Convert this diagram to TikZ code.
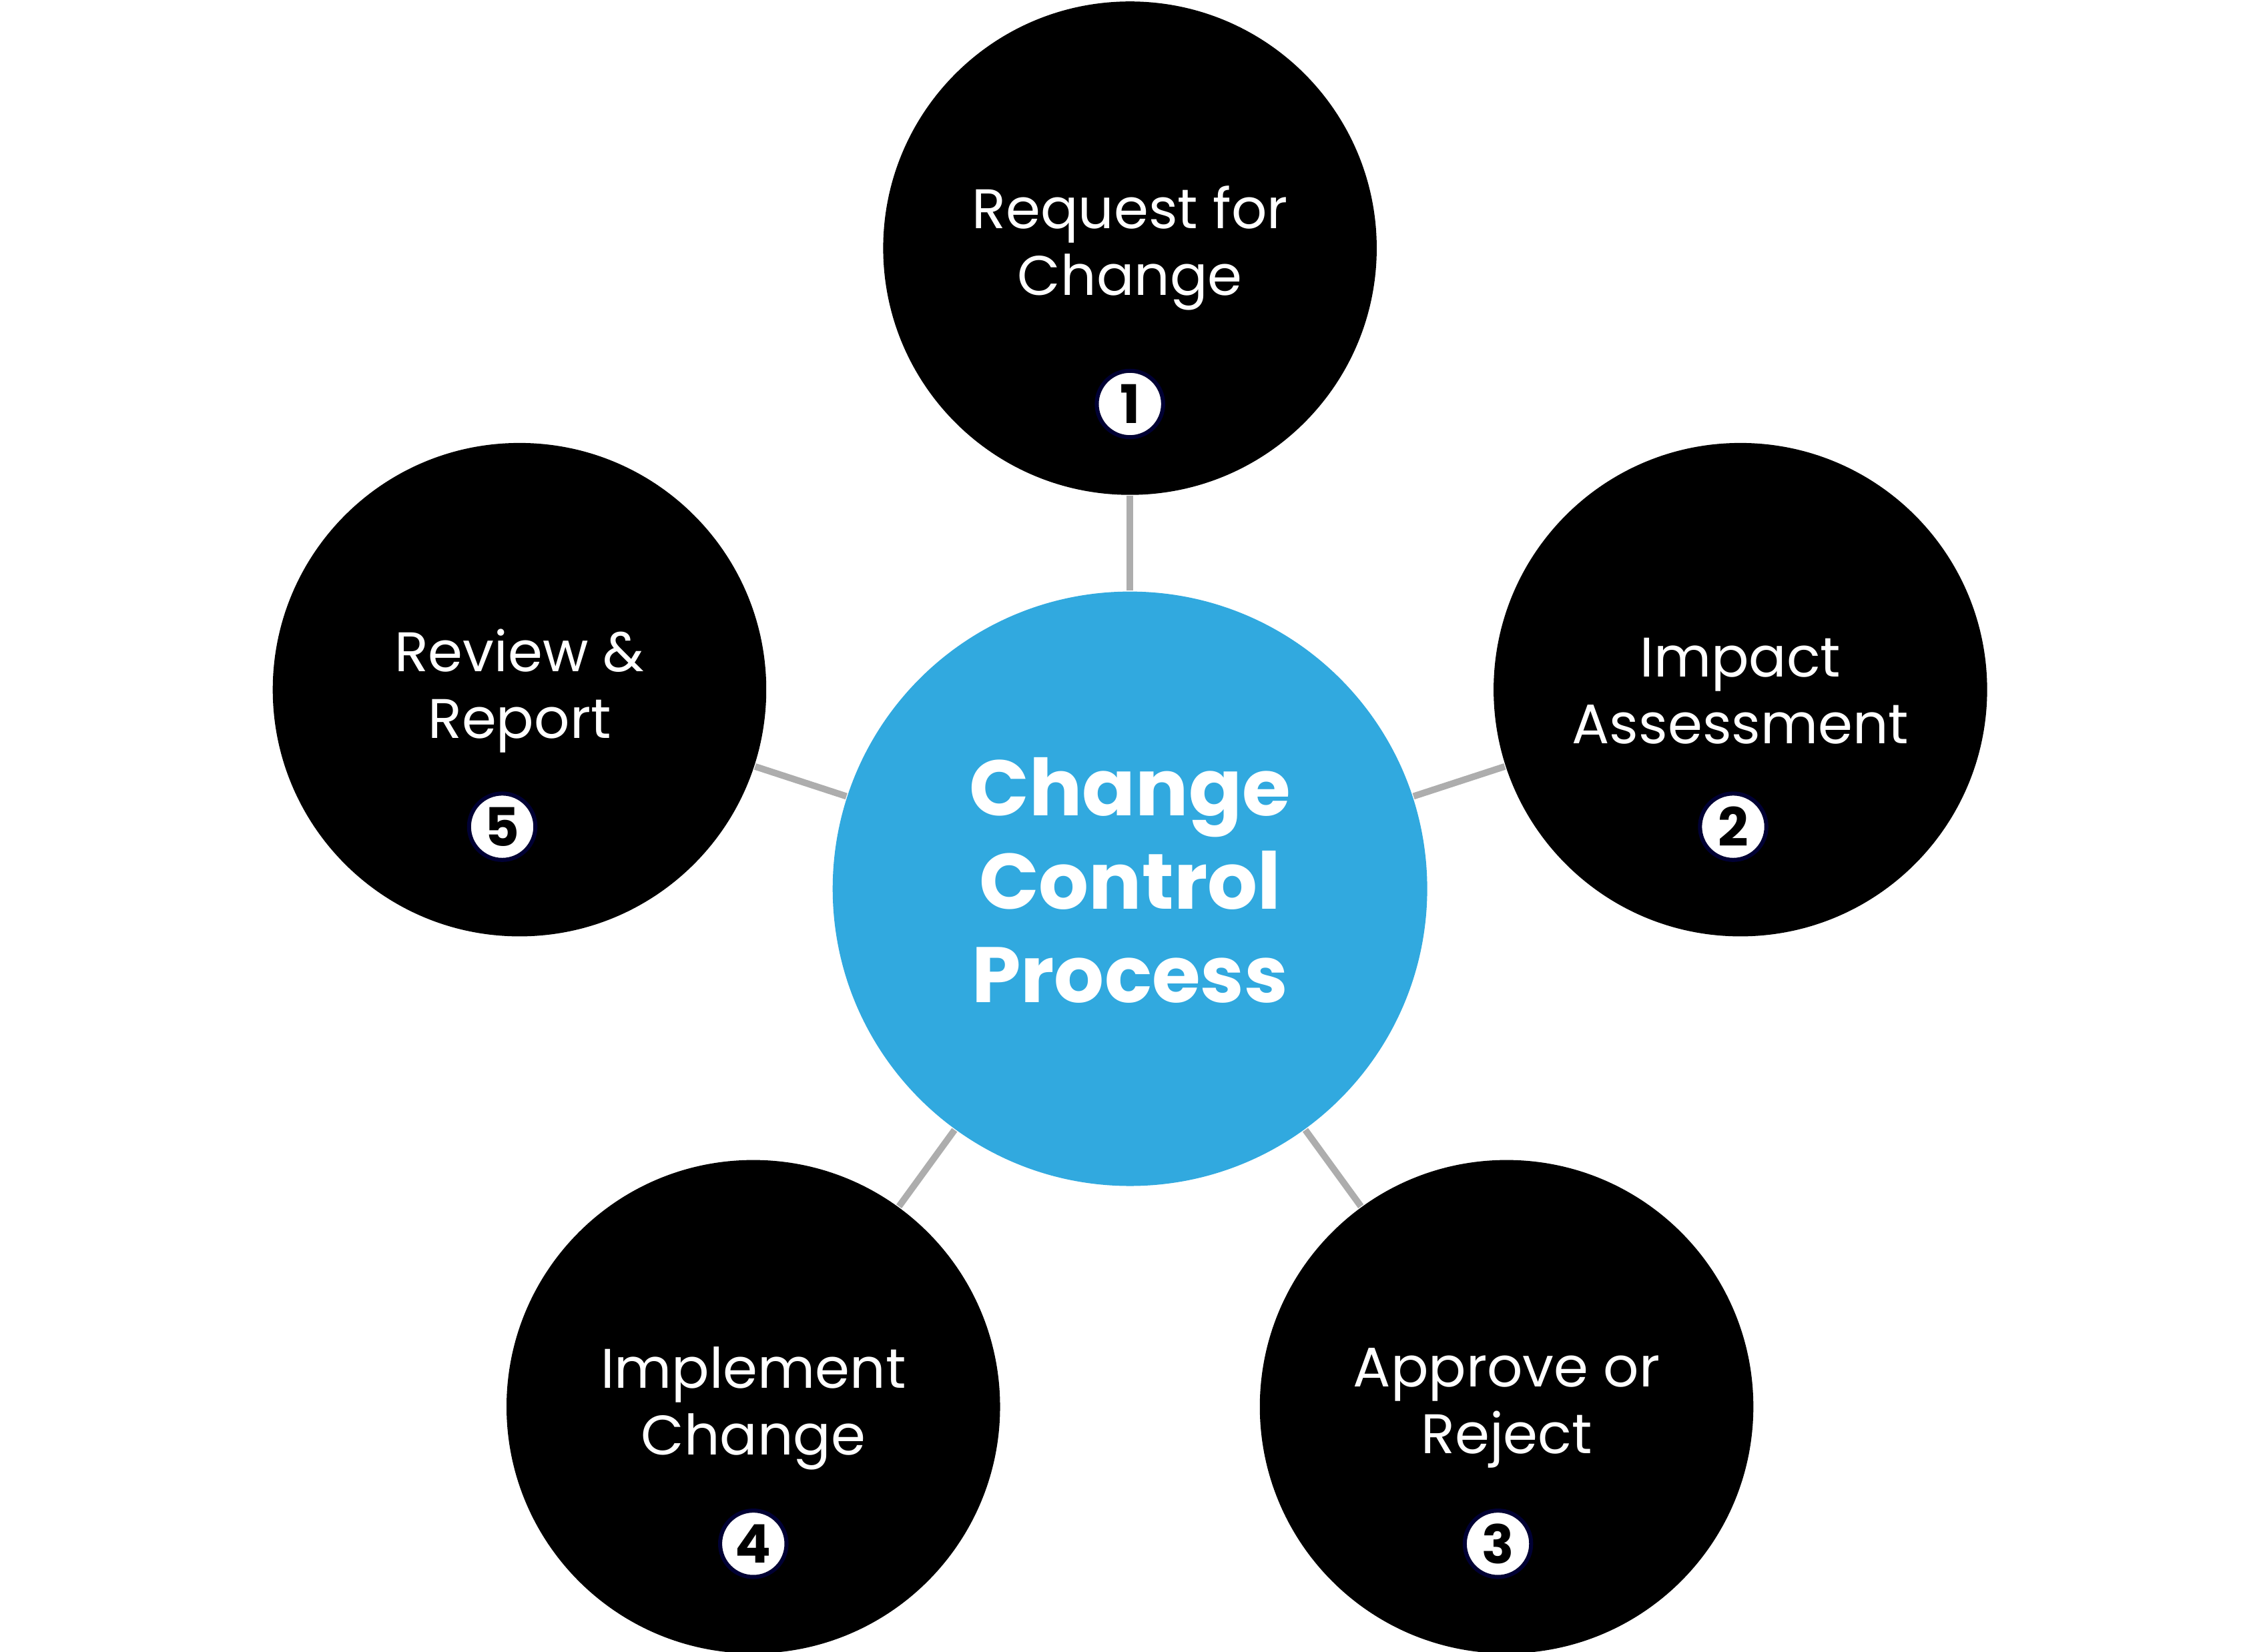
\documentclass[tikz,border=0pt]{standalone}
\usepackage{fontspec}
\setmainfont{Poppins}
\usetikzlibrary{positioning}
\definecolor{hubblue}{HTML}{31A9DF}
\definecolor{linkgray}{HTML}{ADADAD}
\tikzset{
  stepcircle/.style={circle,fill=black,minimum size=3.42cm,inner sep=0pt},
  hubcircle/.style={circle,fill=hubblue,minimum size=4.12cm,inner sep=0pt},
  steptext/.style={text=white,align=center,font=\fontsize{11}{13.2}\selectfont},
  badge/.style={circle,fill=white,draw=black!80!blue,line width=0.8pt,minimum size=0.46cm,inner sep=0pt,font=\bfseries\fontsize{10.5}{11}\selectfont},
  link/.style={draw=linkgray,line width=1.3pt}
}
\begin{document}
\begin{tikzpicture}
\useasboundingbox (0,0) rectangle (15.64,-11.45);
% circles
\node[stepcircle](s1) at (7.83,-1.72) {};
\node[stepcircle](s2) at (12.06,-4.78) {};
\node[stepcircle](s3) at (10.44,-9.75) {};
\node[stepcircle](s4) at (5.22,-9.75) {};
\node[stepcircle](s5) at (3.60,-4.78) {};
\node[hubcircle](hub) at (7.83,-6.16) {};
% links
\foreach \s in {s1,s2,s3,s4,s5}
  \draw[link] (hub) -- (\s);
% labels
\node[steptext] at (7.83,-1.72) {Request for\\Change};
\node[steptext] at (12.06,-4.79) {Impact\\Assessment};
\node[steptext] at (10.44,-9.76) {Approve or\\Reject};
\node[steptext] at (5.22,-9.76) {Implement\\Change};
\node[steptext] at (3.60,-4.79) {Review \&\\Report};
\node[text=white,align=center,font=\bfseries\fontsize{15.5}{18.4}\selectfont] at (7.83,-6.10) {Change\\Control\\Process};
% badges
\node[badge] at (7.83,-2.80) {1};
\node[badge] at (12.01,-5.73) {2};
\node[badge] at (10.38,-10.70) {3};
\node[badge] at (5.22,-10.70) {4};
\node[badge] at (3.48,-5.73) {5};
\end{tikzpicture}
\end{document}
